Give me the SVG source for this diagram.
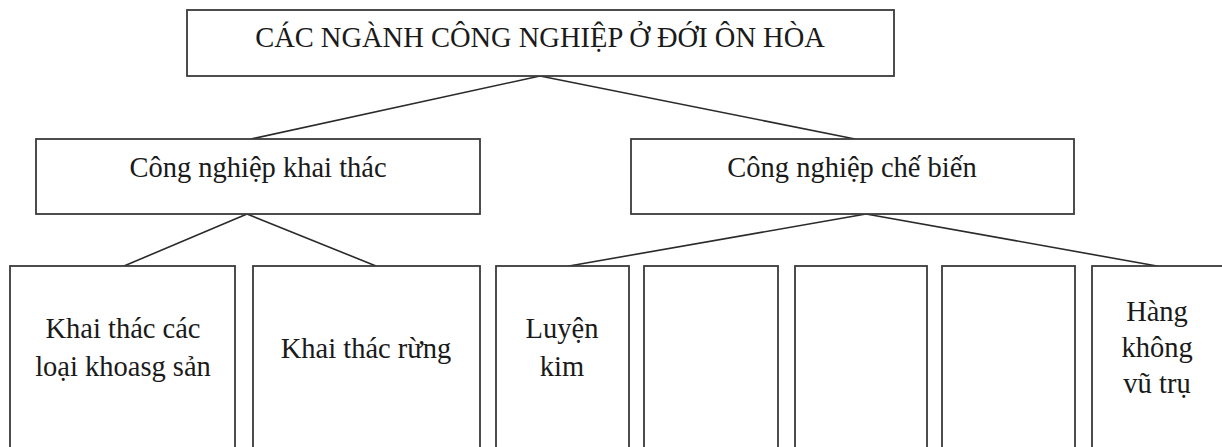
<svg xmlns="http://www.w3.org/2000/svg" width="1222" height="447" viewBox="0 0 1222 447">
<style>
.box{fill:#ffffff;stroke:#3a3a3a;stroke-width:1.8}
.conn{stroke:#2a2a2a;stroke-width:1.6;fill:none}
.t{font-family:"Liberation Serif","Times New Roman",serif;font-size:28.5px;fill:#1a1a1a;text-anchor:middle}
</style>
<rect width="1222" height="447" fill="#ffffff"/>
<g id="connectors">
<line class="conn" x1="540" y1="76" x2="251" y2="139"/>
<line class="conn" x1="540" y1="76" x2="855" y2="139"/>
<line class="conn" x1="247" y1="214" x2="124" y2="266"/>
<line class="conn" x1="247" y1="214" x2="376" y2="266"/>
<line class="conn" x1="866" y1="214" x2="569" y2="266"/>
<line class="conn" x1="866" y1="214" x2="1157" y2="266"/>
</g>
<g id="root">
<rect class="box" x="187" y="10" width="707" height="66"/>
<text class="t" x="540" y="47">CÁC NGÀNH CÔNG NGHIỆP Ở ĐỚI ÔN HÒA</text>
</g>
<g id="khaithac">
<rect class="box" x="36" y="139" width="444" height="75"/>
<text class="t" x="258" y="177">Công nghiệp khai thác</text>
</g>
<g id="chebien">
<rect class="box" x="631" y="139" width="443" height="75"/>
<text class="t" x="852" y="177">Công nghiệp chế biến</text>
</g>
<g id="khoangsan">
<rect class="box" x="10" y="266" width="225" height="200"/>
<text class="t" x="123" y="338">Khai thác các</text>
<text class="t" x="123" y="376">loại khoasg sản</text>
</g>
<g id="rung">
<rect class="box" x="253" y="266" width="227" height="200"/>
<text class="t" x="366" y="358">Khai thác rừng</text>
</g>
<g id="luyenkim">
<rect class="box" x="496" y="266" width="133" height="200"/>
<text class="t" x="562" y="338">Luyện</text>
<text class="t" x="562" y="376">kim</text>
</g>
<g id="empty1">
<rect class="box" x="644" y="266" width="134" height="200"/>
</g>
<g id="empty2">
<rect class="box" x="795" y="266" width="132" height="200"/>
</g>
<g id="empty3">
<rect class="box" x="942" y="266" width="133" height="200"/>
</g>
<g id="hangkhong">
<rect class="box" x="1092" y="266" width="140" height="200"/>
<text class="t" x="1157" y="321">Hàng</text>
<text class="t" x="1157" y="357">không</text>
<text class="t" x="1157" y="393">vũ trụ</text>
</g>
</svg>
